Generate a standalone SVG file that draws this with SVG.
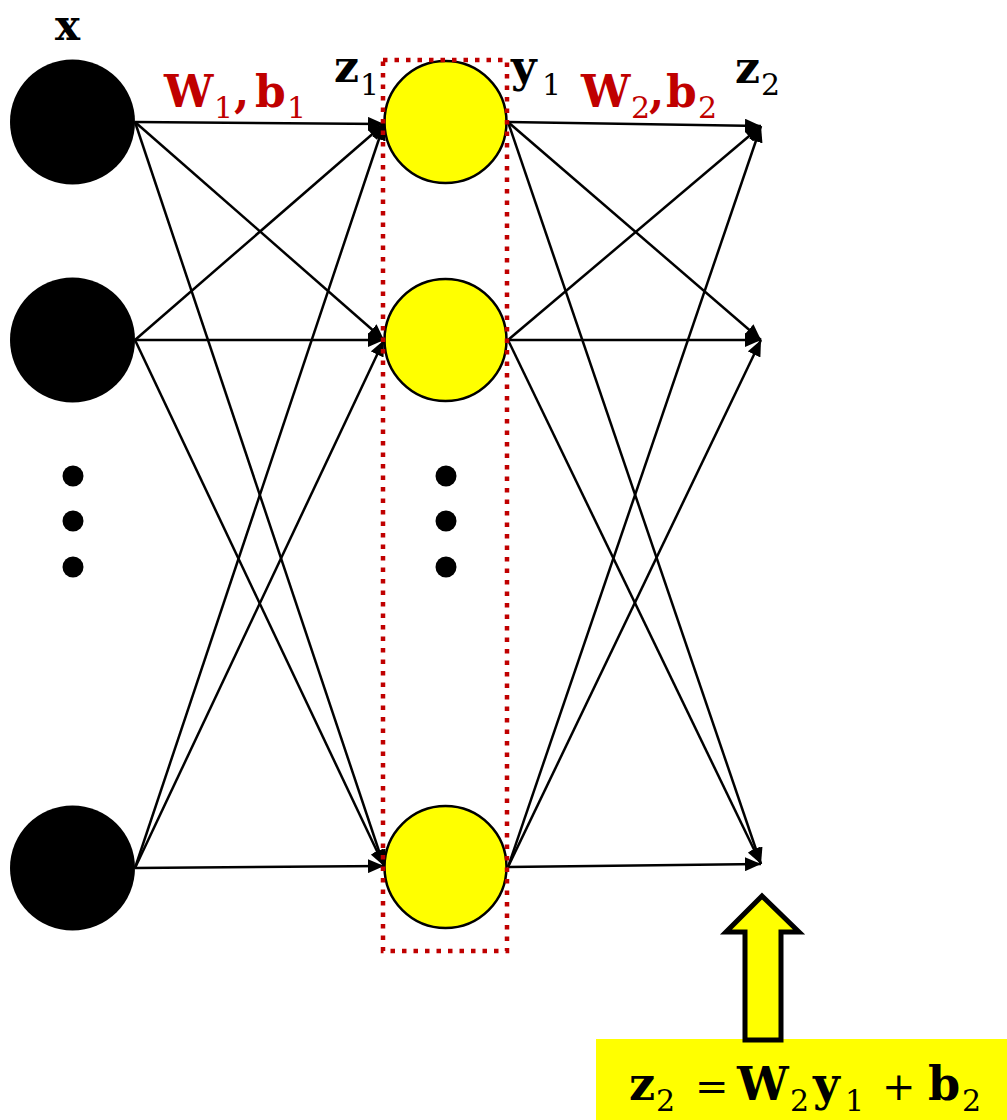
<svg xmlns="http://www.w3.org/2000/svg" width="1007" height="1120" viewBox="0 0 1007 1120">
<style>
.b{font-family:"DejaVu Serif","Liberation Serif",serif;font-weight:bold;font-size:44px}
.s{font-family:"DejaVu Serif","Liberation Serif",serif;font-weight:normal;font-size:30px}
.f{font-size:46px}
.op{font-family:"DejaVu Serif","Liberation Serif",serif;font-weight:normal;font-size:40px}
.red{fill:#C00000}
.blk{fill:#000}
.edge{stroke:#000;stroke-width:2.5;fill:none;marker-end:url(#ah)}
.inp{fill:#000}
.hid{fill:#FFFF00;stroke:#000;stroke-width:2.5}
.dot{fill:#000}
</style>
<defs>
<marker id="ah" markerUnits="userSpaceOnUse" markerWidth="17" markerHeight="14" refX="16" refY="7" orient="auto">
<path d="M0,0 L16,7 L0,14 z" fill="#000"/>
</marker>
</defs>
<rect width="1007" height="1120" fill="#fff"/>

<g id="connectors">
<line class="edge" x1="135" y1="122" x2="384" y2="124"/>
<line class="edge" x1="135" y1="122" x2="384" y2="340"/>
<line class="edge" x1="135" y1="122" x2="384" y2="866"/>
<line class="edge" x1="135" y1="340" x2="384" y2="124"/>
<line class="edge" x1="135" y1="340" x2="384" y2="340"/>
<line class="edge" x1="135" y1="340" x2="384" y2="866"/>
<line class="edge" x1="135" y1="868" x2="384" y2="124"/>
<line class="edge" x1="135" y1="868" x2="384" y2="340"/>
<line class="edge" x1="135" y1="868" x2="384" y2="866"/>
<line class="edge" x1="508" y1="122" x2="761" y2="126"/>
<line class="edge" x1="508" y1="122" x2="761" y2="340"/>
<line class="edge" x1="508" y1="122" x2="761" y2="864"/>
<line class="edge" x1="508" y1="340" x2="761" y2="126"/>
<line class="edge" x1="508" y1="340" x2="761" y2="340"/>
<line class="edge" x1="508" y1="340" x2="761" y2="864"/>
<line class="edge" x1="508" y1="867" x2="761" y2="126"/>
<line class="edge" x1="508" y1="867" x2="761" y2="340"/>
<line class="edge" x1="508" y1="867" x2="761" y2="864"/>
</g>

<g id="input-1"><circle class="inp" cx="72.5" cy="122" r="62.5"/></g>
<g id="input-2"><circle class="inp" cx="72.5" cy="340" r="62.5"/></g>
<g id="input-dots"><circle class="dot" cx="73" cy="476" r="10.5"/><circle class="dot" cx="73" cy="521" r="10.5"/><circle class="dot" cx="73" cy="567" r="10.5"/></g>
<g id="input-3"><circle class="inp" cx="72.5" cy="868" r="62.5"/></g>

<g id="hidden-1"><circle class="hid" cx="445.5" cy="122" r="61"/></g>
<g id="hidden-2"><circle class="hid" cx="445.5" cy="340" r="61"/></g>
<g id="hidden-dots"><circle class="dot" cx="446" cy="476" r="10.5"/><circle class="dot" cx="446" cy="521" r="10.5"/><circle class="dot" cx="446" cy="567" r="10.5"/></g>
<g id="hidden-3"><circle class="hid" cx="445.5" cy="867" r="61"/></g>

<g id="hidden-layer-box"><rect x="383" y="60" width="124" height="891" fill="none" stroke="#C00000" stroke-width="4.5" stroke-dasharray="4.5 7"/></g>

<g id="labels">
<text class="b blk" x="55" y="40" style="font-size:42px">x</text>
<text class="b red" x="164" y="107">W</text><text class="s red" x="214" y="118">1</text><text class="b red" x="234" y="107">,</text><text class="b red" x="255" y="107">b</text><text class="s red" x="287" y="118">1</text>
<text class="b blk" x="334" y="82">z</text><text class="s blk" x="360" y="95">1</text>
<text class="b blk" x="511" y="82">y</text><text class="s blk" x="542" y="95">1</text>
<text class="b red" x="581" y="107">W</text><text class="s red" x="631" y="118">2</text><text class="b red" x="649" y="107">,</text><text class="b red" x="666" y="107">b</text><text class="s red" x="698" y="118">2</text>
<text class="b blk" x="735" y="83">z</text><text class="s blk" x="761" y="95">2</text>
</g>

<g id="formula">
<rect x="596" y="1039" width="411" height="81" fill="#FFFF00"/>
<polygon points="762,896 799,932 781,932 781,1040 745,1040 745,932 726,932" fill="#FFFF00" stroke="#000" stroke-width="5"/>
<text class="b blk f" x="629" y="1100">z</text><text class="s blk" x="656" y="1111">2</text>
<text class="op blk" x="695" y="1100">=</text>
<text class="b blk f" x="737" y="1100">W</text><text class="s blk" x="790" y="1111">2</text>
<text class="b blk f" x="813" y="1100">y</text><text class="s blk" x="845" y="1111">1</text>
<text class="op blk" x="882" y="1100">+</text>
<text class="b blk f" x="928" y="1100">b</text><text class="s blk" x="962" y="1111">2</text>
</g>
</svg>
